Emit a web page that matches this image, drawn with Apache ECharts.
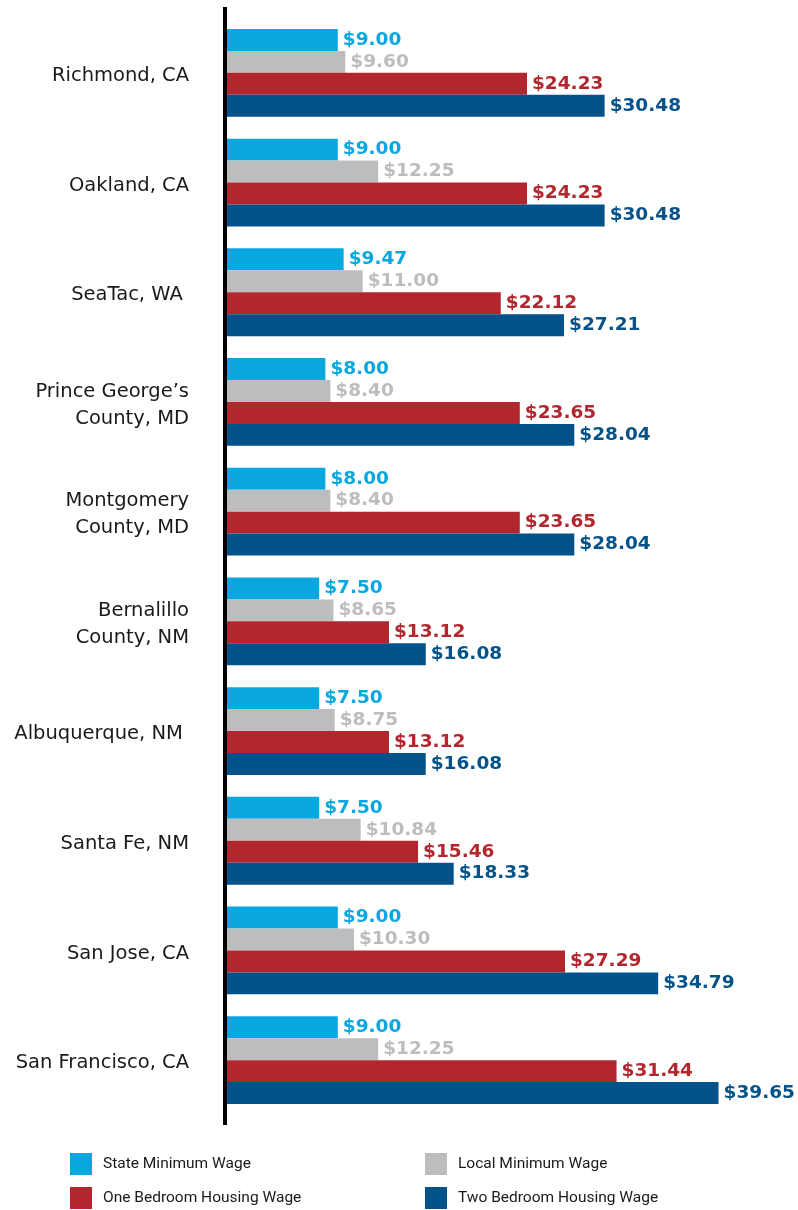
<!DOCTYPE html>
<html>
<head>
<meta charset="utf-8">
<script src="https://cdn.jsdelivr.net/npm/echarts@6/dist/echarts.min.js"></script>
<style>
html,body{margin:0;padding:0;background:#fff;}
#chart{width:798px;height:1210px;}
</style>
</head>
<body>
<div id="chart"></div>
<script>
const categories = [
  'Richmond, CA', 'Oakland, CA', 'SeaTac, WA ', 'Prince George\u2019s\nCounty, MD',
  'Montgomery\nCounty, MD', 'Bernalillo\nCounty, NM', 'Albuquerque, NM ', 'Santa Fe, NM',
  'San Jose, CA', 'San Francisco, CA'
];
const stateMin = [9.00, 9.00, 9.47, 8.00, 8.00, 7.50, 7.50, 7.50, 9.00, 9.00];
const localMin = [9.60, 12.25, 11.00, 8.40, 8.40, 8.65, 8.75, 10.84, 10.30, 12.25];
const oneBed = [24.23, 24.23, 22.12, 23.65, 23.65, 13.12, 13.12, 15.46, 27.29, 31.44];
const twoBed = [30.48, 30.48, 27.21, 28.04, 28.04, 16.08, 16.08, 18.33, 34.79, 39.65];
const seriesNames = ['State Minimum Wage', 'Local Minimum Wage', 'One Bedroom Housing Wage', 'Two Bedroom Housing Wage'];
const colors = ['#08a7e0', '#bcbdbf', '#b2272e', '#03528a'];

const chart = echarts.init(document.getElementById('chart'), null, {renderer: 'canvas'});
const dataSets = [stateMin, localMin, oneBed, twoBed];
const series = dataSets.map((d, i) => ({
  name: seriesNames[i],
  type: 'bar',
  data: d,
  barGap: '0%',
  barCategoryGap: '20%',
  itemStyle: {color: colors[i]},
  label: {
    show: true,
    position: 'right',
    distance: 5,
    color: colors[i],
    fontFamily: 'DejaVu Sans',
    fontWeight: 'bold',
    fontSize: 18.5,
    formatter: p => '$' + p.value.toFixed(2)
  },
  animation: false
}));

const legendFont = {fontFamily: 'Roboto', fontSize: 15.5, color: '#1a1a1a', padding: [0, 0, 0, 6]};
const legendPos = [[70, 1153], [425, 1153], [70, 1187], [425, 1187]];
const legends = seriesNames.map((n, i) => ({
  data: [n],
  left: legendPos[i][0], top: legendPos[i][1],
  padding: 0,
  itemWidth: 22, itemHeight: 22,
  icon: 'rect',
  selectedMode: false,
  textStyle: legendFont
}));

chart.setOption({
  animation: false,
  backgroundColor: '#fff',
  grid: {left: 226, top: 18, width: 559, height: 1097, containLabel: false},
  xAxis: {
    type: 'value', min: 0, max: 45,
    show: false
  },
  yAxis: {
    type: 'category',
    data: categories,
    inverse: true,
    axisLine: {show: false},
    axisTick: {show: false},
    axisLabel: {
      margin: 37,
      align: 'right',
      formatter: v => v.split('\n').map(s => '{a|' + s + '}').join('\n'),
      rich: {
        a: {
          color: '#1a1a1a',
          fontFamily: 'DejaVu Sans',
          fontSize: 19.5,
          lineHeight: 27,
          padding: [6, 0, 0, 0],
          align: 'right'
        }
      }
    }
  },
  legend: legends,
  graphic: [{
    type: 'line',
    shape: {x1: 225, y1: 7, x2: 225, y2: 1125},
    style: {stroke: '#000', lineWidth: 4},
    z: 10
  }],
  series: series
});
</script>
</body>
</html>
